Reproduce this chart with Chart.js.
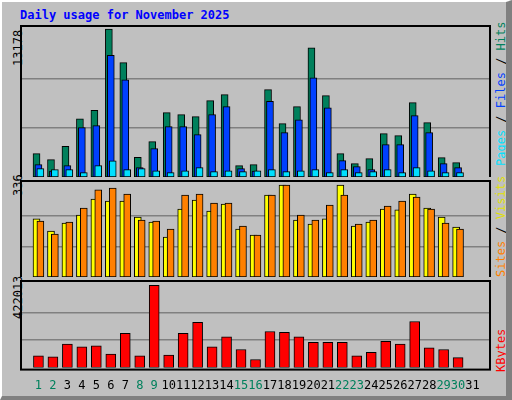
<!DOCTYPE html>
<html>
<head>
<meta charset="utf-8">
<script src="https://cdn.jsdelivr.net/npm/chart.js@4.4.1/dist/chart.umd.min.js"></script>
<style>
  body { margin: 0; }
  #wrap { position: relative; width: 512px; height: 400px; background: #c0c0c0; overflow: hidden;
          box-sizing: border-box; border-left: 2px solid #fff; border-top: 2px solid #fff;
          border-right: 6px solid #808080; border-bottom: 4px solid #808080; }
  canvas { position: absolute; }
  .lbl { position: absolute; font-family: "DejaVu Sans Mono", monospace; font-size: 12px; white-space: nowrap;
         transform-origin: 0 0; transform: rotate(-90deg); }
  #title { position: absolute; left: 18px; top: 6px; font: bold 12px "DejaVu Sans Mono", monospace; color: #0000ff; }
</style>
</head>
<body>
<div id="wrap">
  <div id="title">Daily usage for November 2025</div>
  <div class="lbl" style="left:9px;top:64px">13178</div>
  <div class="lbl" style="left:9px;top:194px">336</div>
  <div class="lbl" style="left:9px;top:317px">422013</div>
  <div class="lbl" style="left:492px;top:164px"><span style="color:#00e0ff">Pages</span> / <span style="color:#0040ff">Files</span> / <span style="color:#00805c">Hits</span></div>
  <div class="lbl" style="left:492px;top:275px"><span style="color:#ff8000">Sites</span> / <span style="color:#e0e000">Visits</span></div>
  <div class="lbl" style="left:492px;top:370px"><span style="color:#ff0000">KBytes</span></div>
  <canvas id="c1" style="left:18px;top:23px" width="471" height="152"></canvas>
  <canvas id="c2" style="left:18px;top:178px" width="471" height="97"></canvas>
  <canvas id="c3" style="left:18px;top:278px" width="471" height="116"></canvas>
</div>
<script>
const days = ['1','2','3','4','5','6','7','8','9','10','11','12','13','14','15','16','17','18','19','20','21','22','23','24','25','26','27','28','29','30','31'];
const weekend = [1,2,8,9,15,16,22,23,29,30];

const hits  = [2080,1540,2730,5190,5930,13178,10180,1750,3150,5730,5550,5370,6800,7330,1010,1100,7780,4750,6260,11510,7240,2080,1190,1630,3860,3680,6620,4840,1720,1280,0];
const files = [1100,530,1010,4390,4570,10830,8660,830,2520,4480,4480,3770,5550,6260,740,530,6740,3950,5100,8840,6170,1460,920,650,2880,2880,5460,3950,1190,830,0];
const pages = [740,650,650,390,1010,1450,650,740,560,390,560,830,480,560,480,560,650,480,560,650,390,650,390,480,650,390,830,560,390,390,0];

const visits = [212,168,197,226,285,277,277,219,201,146,248,281,241,266,175,153,299,336,208,193,212,336,186,201,248,245,303,252,219,182,0];
const sites  = [204,157,201,252,318,325,303,208,204,175,299,303,270,270,186,153,299,336,226,208,263,299,193,208,259,277,292,248,197,175,0];

const kbytes = [60290,55650,120580,106670,111300,69560,176230,60290,422013,64930,176230,231880,106670,157680,92750,41740,185500,180860,157680,129850,129850,129850,60290,78840,134490,120580,236520,102030,92750,51010,0];

const maxHits = 13178, maxVisits = 336, maxKB = 422013;
const dayPx = 471 / 31.5;

function pts(arr) { return arr.map((v, i) => ({ x: i + 1, y: v })); }

function xAxis(shiftPx, show) {
  const s = shiftPx / dayPx;
  return {
    type: 'linear', min: 0.25 - s, max: 31.75 - s, display: !!show,
    grid: { display: false }, border: { display: false },
    afterBuildTicks: ax => { ax.ticks = days.map((d, i) => ({ value: i + 1 })); },
    ticks: {
      autoSkip: false, maxRotation: 0, padding: 3,
      font: { family: 'DejaVu Sans Mono', size: 12 },
      color: c => weekend.includes(c.tick.value) ? '#00805c' : '#000',
      callback: v => days[v - 1]
    }
  };
}

function yAxis(top, maxv) {
  return {
    min: 0, max: top, display: true,
    ticks: { display: false }, border: { display: false },
    grid: { color: '#808080', lineWidth: 1.5, drawTicks: false },
    afterBuildTicks: ax => { ax.ticks = [{ value: maxv / 3 }, { value: maxv * 2 / 3 }]; }
  };
}

const frame = {
  id: 'frame',
  afterDraw(chart) {
    const a = chart.chartArea, ctx = chart.ctx;
    ctx.save();
    ctx.strokeStyle = '#000';
    ctx.lineWidth = 2;
    ctx.strokeRect(a.left + 1, a.top + 1, a.right - a.left - 2, a.bottom - a.top + 1);
    ctx.restore();
  }
};

function bar(label, arr, color, axis, w) {
  return { label, data: pts(arr), backgroundColor: color, borderColor: '#000', borderWidth: 1,
           borderSkipped: false, xAxisID: axis, barThickness: w, grouped: false };
}

const common = {
  responsive: false, animation: false,
  layout: { padding: 0 },
  plugins: { legend: { display: false }, tooltip: { enabled: false } }
};

new Chart(document.getElementById('c1'), {
  type: 'bar',
  data: { datasets: [
    bar('Pages', pages, '#00e0ff', 'xp', 7),
    bar('Files', files, '#0040ff', 'xf', 7),
    bar('Hits', hits, '#00805c', 'xh', 7)
  ] },
  options: Object.assign({}, common, {
    scales: { xh: xAxis(-2), xf: xAxis(0), xp: xAxis(2), y: yAxis(maxHits * 152 / 148, maxHits) }
  }),
  plugins: [frame]
});

new Chart(document.getElementById('c2'), {
  type: 'bar',
  data: { datasets: [
    bar('Sites', sites, '#ff8000', 'xs', 7),
    bar('Visits', visits, '#ffff00', 'xv', 7)
  ] },
  options: Object.assign({}, common, {
    scales: { xv: xAxis(-2), xs: xAxis(2), y: yAxis(maxVisits * 97 / 92, maxVisits) }
  }),
  plugins: [frame]
});

new Chart(document.getElementById('c3'), {
  type: 'bar',
  data: { datasets: [ bar('KBytes', kbytes, '#ff0000', 'xk', 10) ] },
  options: Object.assign({}, common, {
    scales: { xk: xAxis(0, true), y: yAxis(maxKB * 97 / 91, maxKB) }
  }),
  plugins: [frame]
});
</script>
</body>
</html>
